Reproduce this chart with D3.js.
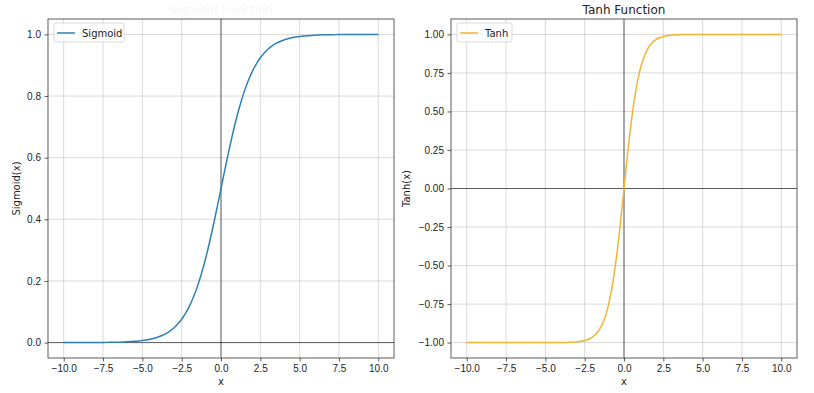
<!DOCTYPE html>
<html>
<head>
<meta charset="utf-8">
<script src="https://cdn.jsdelivr.net/npm/d3@7"></script>
<style>
  body { margin: 0; background: #fff; }
  svg { display: block; font-family: "DejaVu Sans", sans-serif; }
  .tick text { font-size: 10px; fill: #222; }
  .tick line { stroke: #333; stroke-width: 0.8; }
</style>
</head>
<body>
<div id="viz"></div>
<script>
// sample points along x
const xs = [
  -10, -9.75, -9.5, -9.25, -9, -8.75, -8.5, -8.25, -8, -7.75, -7.5, -7.25, -7, -6.75, -6.5, -6.25,
  -6, -5.75, -5.5, -5.25, -5, -4.75, -4.5, -4.25, -4, -3.75, -3.5, -3.25, -3, -2.75, -2.5, -2.25,
  -2, -1.75, -1.5, -1.25, -1, -0.75, -0.5, -0.25,
  0,
  0.25, 0.5, 0.75, 1, 1.25, 1.5, 1.75, 2, 2.25, 2.5, 2.75, 3, 3.25, 3.5, 3.75, 4, 4.25, 4.5, 4.75,
  5, 5.25, 5.5, 5.75, 6, 6.25, 6.5, 6.75, 7, 7.25, 7.5, 7.75, 8, 8.25, 8.5, 8.75, 9, 9.25, 9.5, 9.75, 10];

const sigmoidVals = [
  0.0000, 0.0001, 0.0001, 0.0001, 0.0001, 0.0002, 0.0002, 0.0003, 0.0003, 0.0004, 0.0006, 0.0007, 0.0009, 0.0012, 0.0015, 0.0019,
  0.0025, 0.0032, 0.0041, 0.0052, 0.0067, 0.0086, 0.0110, 0.0140, 0.0180, 0.0230, 0.0293, 0.0373, 0.0474, 0.0601, 0.0759, 0.0953,
  0.1192, 0.1480, 0.1824, 0.2227, 0.2689, 0.3208, 0.3775, 0.4378,
  0.5000,
  0.5622, 0.6225, 0.6792, 0.7311, 0.7773, 0.8176, 0.8520, 0.8808, 0.9047, 0.9241, 0.9399, 0.9526, 0.9627, 0.9707, 0.9770, 0.9820, 0.9860, 0.9890, 0.9914,
  0.9933, 0.9948, 0.9959, 0.9968, 0.9975, 0.9981, 0.9985, 0.9988, 0.9991, 0.9993, 0.9994, 0.9996, 0.9997, 0.9997, 0.9998, 0.9998, 0.9999, 0.9999, 0.9999, 0.9999, 1.0000];

const tanhVals = [
  -1.0000, -1.0000, -1.0000, -1.0000, -1.0000, -1.0000, -1.0000, -1.0000, -1.0000, -1.0000, -1.0000, -1.0000, -1.0000, -1.0000, -1.0000, -1.0000,
  -1.0000, -1.0000, -1.0000, -1.0000, -0.9999, -0.9999, -0.9998, -0.9996, -0.9993, -0.9989, -0.9982, -0.9970, -0.9951, -0.9919, -0.9866, -0.9780,
  -0.9640, -0.9414, -0.9051, -0.8483, -0.7616, -0.6351, -0.4621, -0.2449,
  0.0000,
  0.2449, 0.4621, 0.6351, 0.7616, 0.8483, 0.9051, 0.9414, 0.9640, 0.9780, 0.9866, 0.9919, 0.9951, 0.9970, 0.9982, 0.9989, 0.9993, 0.9996, 0.9998, 0.9999,
  0.9999, 1.0000, 1.0000, 1.0000, 1.0000, 1.0000, 1.0000, 1.0000, 1.0000, 1.0000, 1.0000, 1.0000, 1.0000, 1.0000, 1.0000, 1.0000, 1.0000, 1.0000, 1.0000, 1.0000, 1.0000];

const xTicks = [-10, -7.5, -5, -2.5, 0, 2.5, 5, 7.5, 10];
const sigTicks = [0, 0.2, 0.4, 0.6, 0.8, 1.0];
const tanhTicks = [-1, -0.75, -0.5, -0.25, 0, 0.25, 0.5, 0.75, 1];

const width = 814, height = 393;
const svg = d3.select('#viz').append('svg')
  .attr('width', width).attr('height', height)
  .attr('role', 'img')
  .attr('aria-label', 'Sigmoid and tanh activation functions');

function panel(opts) {
  const { left, right, top, bottom, yDomain, ticks, fmt, vals, color, name, ylabel, title, titleColor } = opts;
  const x = d3.scaleLinear().domain([-11, 11]).range([left, right]);
  const y = d3.scaleLinear().domain(yDomain).range([bottom, top]);
  const g = svg.append('g');

  // grid
  g.append('g').selectAll('line').data(xTicks).join('line')
    .attr('x1', d => x(d)).attr('x2', d => x(d)).attr('y1', top).attr('y2', bottom)
    .attr('stroke', '#b0b0b0').attr('stroke-opacity', 0.6).attr('stroke-width', 0.8);
  g.append('g').selectAll('line').data(ticks).join('line')
    .attr('y1', d => y(d)).attr('y2', d => y(d)).attr('x1', left).attr('x2', right)
    .attr('stroke', '#b0b0b0').attr('stroke-opacity', 0.6).attr('stroke-width', 0.8);

  // zero lines
  g.append('line').attr('x1', left).attr('x2', right).attr('y1', y(0)).attr('y2', y(0))
    .attr('stroke', '#000').attr('stroke-opacity', 0.65).attr('stroke-width', 0.9);
  g.append('line').attr('x1', x(0)).attr('x2', x(0)).attr('y1', top).attr('y2', bottom)
    .attr('stroke', '#000').attr('stroke-opacity', 0.65).attr('stroke-width', 0.9);

  // curve
  const line = d3.line().x((d, i) => x(xs[i])).y(d => y(d)).curve(d3.curveMonotoneX);
  g.append('path').datum(vals).attr('d', line)
    .attr('fill', 'none').attr('stroke', color).attr('stroke-width', 1.5);

  // axes
  g.append('g').attr('transform', `translate(0,${bottom})`)
    .call(d3.axisBottom(x).tickValues(xTicks).tickFormat(d3.format('.1f')).tickSize(3.5).tickPadding(3.5).tickSizeOuter(0))
    .call(a => a.select('.domain').remove());
  g.append('g').attr('transform', `translate(${left},0)`)
    .call(d3.axisLeft(y).tickValues(ticks).tickFormat(d3.format(fmt)).tickSize(3.5).tickPadding(3.5).tickSizeOuter(0))
    .call(a => a.select('.domain').remove());

  // frame
  g.append('rect').attr('x', left).attr('y', top).attr('width', right - left).attr('height', bottom - top)
    .attr('fill', 'none').attr('stroke', '#333').attr('stroke-width', 0.8);

  // labels
  g.append('text').attr('x', (left + right) / 2).attr('y', bottom + 27)
    .attr('text-anchor', 'middle').attr('font-size', 10).attr('fill', '#222').text('x');
  g.append('text').attr('transform', `translate(${opts.ylabelX},${(top + bottom) / 2}) rotate(-90)`)
    .attr('text-anchor', 'middle').attr('font-size', 10).attr('fill', '#222').text(ylabel);
  g.append('text').attr('x', (left + right) / 2).attr('y', top - 5)
    .attr('text-anchor', 'middle').attr('font-size', 12).attr('fill', titleColor).text(title);

  // legend
  const lw = opts.legendW;
  g.append('rect').attr('x', left + 6).attr('y', top + 4).attr('width', lw).attr('height', 19).attr('rx', 2)
    .attr('fill', '#fff').attr('fill-opacity', 0.8).attr('stroke', '#d0d0d0').attr('stroke-width', 0.8);
  g.append('line').attr('x1', left + 9).attr('x2', left + 27).attr('y1', top + 14).attr('y2', top + 14)
    .attr('stroke', color).attr('stroke-width', 1.5);
  g.append('text').attr('x', left + 34).attr('y', top + 17.5)
    .attr('font-size', 10).attr('fill', '#222').text(name);
}

panel({ left: 48, right: 394, top: 19, bottom: 358, yDomain: [-0.05, 1.05], ticks: sigTicks, fmt: '.1f',
  vals: sigmoidVals, color: '#2f80b5', name: 'Sigmoid', ylabel: 'Sigmoid(x)', ylabelX: 20,
  title: 'Sigmoid Function', titleColor: '#f6f6f6', legendW: 70 });

panel({ left: 451, right: 797, top: 19, bottom: 358, yDomain: [-1.1, 1.1], ticks: tanhTicks, fmt: '.2f',
  vals: tanhVals, color: '#f2b434', name: 'Tanh', ylabel: 'Tanh(x)', ylabelX: 410,
  title: 'Tanh Function', titleColor: '#222', legendW: 55 });
</script>
</body>
</html>
